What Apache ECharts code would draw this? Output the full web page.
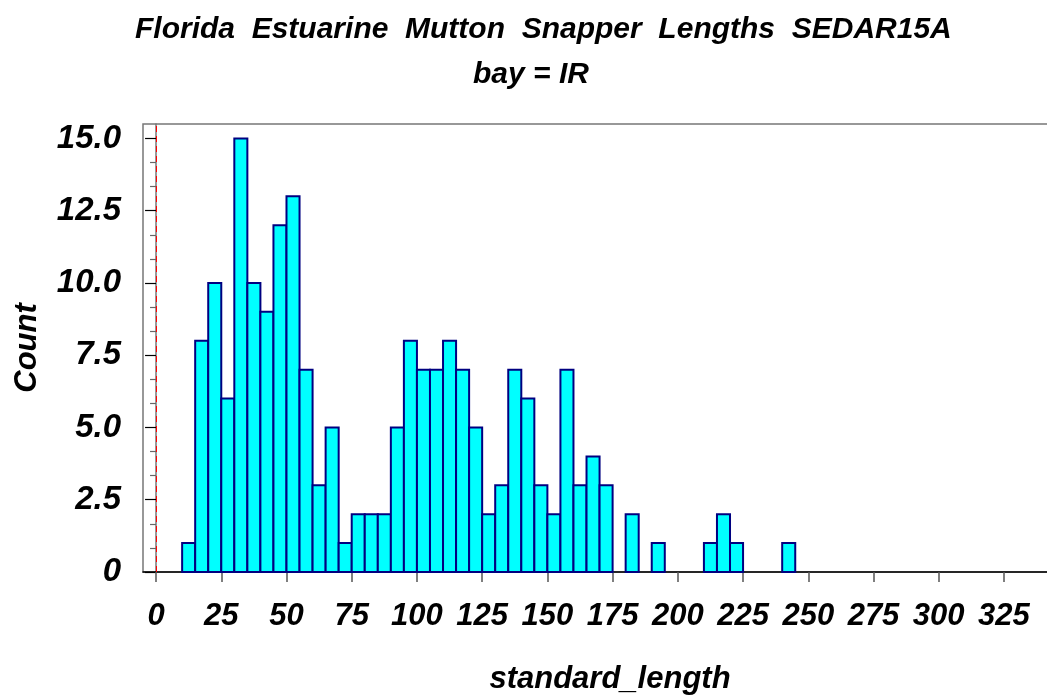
<!DOCTYPE html>
<html>
<head>
<meta charset="utf-8">
<script src="https://cdn.jsdelivr.net/npm/echarts@6/dist/echarts.min.js"></script>
<style>
html,body{margin:0;padding:0;background:#fff;}
#chart{width:1047px;height:698px;}
</style>
</head>
<body>
<div id="chart"></div>
<script>
// Histogram bins (standard_length, bin lower/upper edges) and counts
const binLower = [10,15,20,25,30,35,40,45,50,55,60,65,70,75,80,85,90,95,100,105,110,115,120,125,130,135,140,145,150,155,160,165,170,175,180,185,190,195,200,205,210,215,220,225,230,235,240];
const binUpper = [15,20,25,30,35,40,45,50,55,60,65,70,75,80,85,90,95,100,105,110,115,120,125,130,135,140,145,150,155,160,165,170,175,180,185,190,195,200,205,210,215,220,225,230,235,240,245];
const counts   = [1,8,10,6,15,10,9,12,13,7,3,5,1,2,2,2,5,8,7,7,8,7,5,2,3,7,6,3,2,7,3,4,3,0,2,0,1,0,0,0,1,2,1,0,0,0,1];
const xTicks = [0,25,50,75,100,125,150,175,200,225,250,275,300,325];
const yTicks = [0,2.5,5,7.5,10,12.5,15];
const refLineX = 0;

const FONT = "'Liberation Sans', Arial, Helvetica, sans-serif";
const data = binLower.map((lo, i) => [lo, binUpper[i], counts[i]]);

const chart = echarts.init(document.getElementById('chart'), null, {renderer: 'canvas'});
chart.setOption({
  animation: false,
  backgroundColor: '#ffffff',
  title: [
    {
      text: 'Florida  Estuarine  Mutton  Snapper  Lengths  SEDAR15A',
      left: 130, top: 10,
      textStyle: {fontFamily: FONT, fontStyle: 'italic', fontWeight: 'bold', fontSize: 30, color: '#000'}
    },
    {
      text: 'bay = IR',
      left: 468, top: 55,
      textStyle: {fontFamily: FONT, fontStyle: 'italic', fontWeight: 'bold', fontSize: 30, color: '#000'}
    }
  ],
  grid: {
    left: 143, top: 124, right: -30, bottom: 126,
    outerBoundsMode: 'none', containLabel: false,
    show: true, borderColor: '#777', borderWidth: 1.5, backgroundColor: 'transparent'
  },
  xAxis: {
    type: 'value', min: -5, max: 353,
    name: 'standard_length', nameLocation: 'middle', nameGap: 92,
    nameTextStyle: {fontFamily: FONT, fontStyle: 'italic', fontWeight: 'bold', fontSize: 31, color: '#000'},
    axisLine: {show: true, lineStyle: {color: '#000', width: 1.5}},
    axisTick: {show: true, length: 10, customValues: xTicks, lineStyle: {color: '#555', width: 1.5}},
    axisLabel: {customValues: xTicks, margin: 29, fontFamily: FONT, fontStyle: 'italic', fontWeight: 'bold', fontSize: 31, color: '#000'},
    splitLine: {show: false}
  },
  yAxis: {
    type: 'value', min: 0, max: 15.5, interval: 2.5,
    name: 'Count', nameLocation: 'middle', nameGap: 100, nameRotate: 90,
    nameTextStyle: {fontFamily: FONT, fontStyle: 'italic', fontWeight: 'bold', fontSize: 31, color: '#000'},
    axisLine: {show: true, lineStyle: {color: '#777', width: 1.5}},
    axisTick: {show: true, length: 11, customValues: yTicks, lineStyle: {color: '#000', width: 1.2}},
    minorTick: {show: true, splitNumber: 3, length: 6, lineStyle: {color: '#666', width: 1.2}},
    axisLabel: {
      customValues: yTicks, margin: 22, fontFamily: FONT, fontStyle: 'italic', fontWeight: 'bold', fontSize: 33, color: '#000',
      formatter: v => (v === 0 ? '0' : v.toFixed(1))
    },
    splitLine: {show: false}
  },
  series: [
    {
      type: 'custom',
      data: data,
      encode: {x: [0, 1], y: 2},
      renderItem: function (params, api) {
        const lo = api.value(0), hi = api.value(1), c = api.value(2);
        if (!c) return null;
        const p0 = api.coord([lo, 0]);
        const p1 = api.coord([hi, c]);
        return {
          type: 'rect',
          shape: {x: p0[0], y: p1[1], width: p1[0] - p0[0], height: p0[1] - p1[1]},
          style: {fill: '#00ffff', stroke: '#000080', lineWidth: 2}
        };
      },
      markLine: {
        silent: true, symbol: ['none', 'none'],
        label: {show: false},
        lineStyle: {color: '#ff0000', type: [6, 4], width: 1},
        data: [{xAxis: refLineX}]
      },
      z: 3
    }
  ]
});
</script>
</body>
</html>
